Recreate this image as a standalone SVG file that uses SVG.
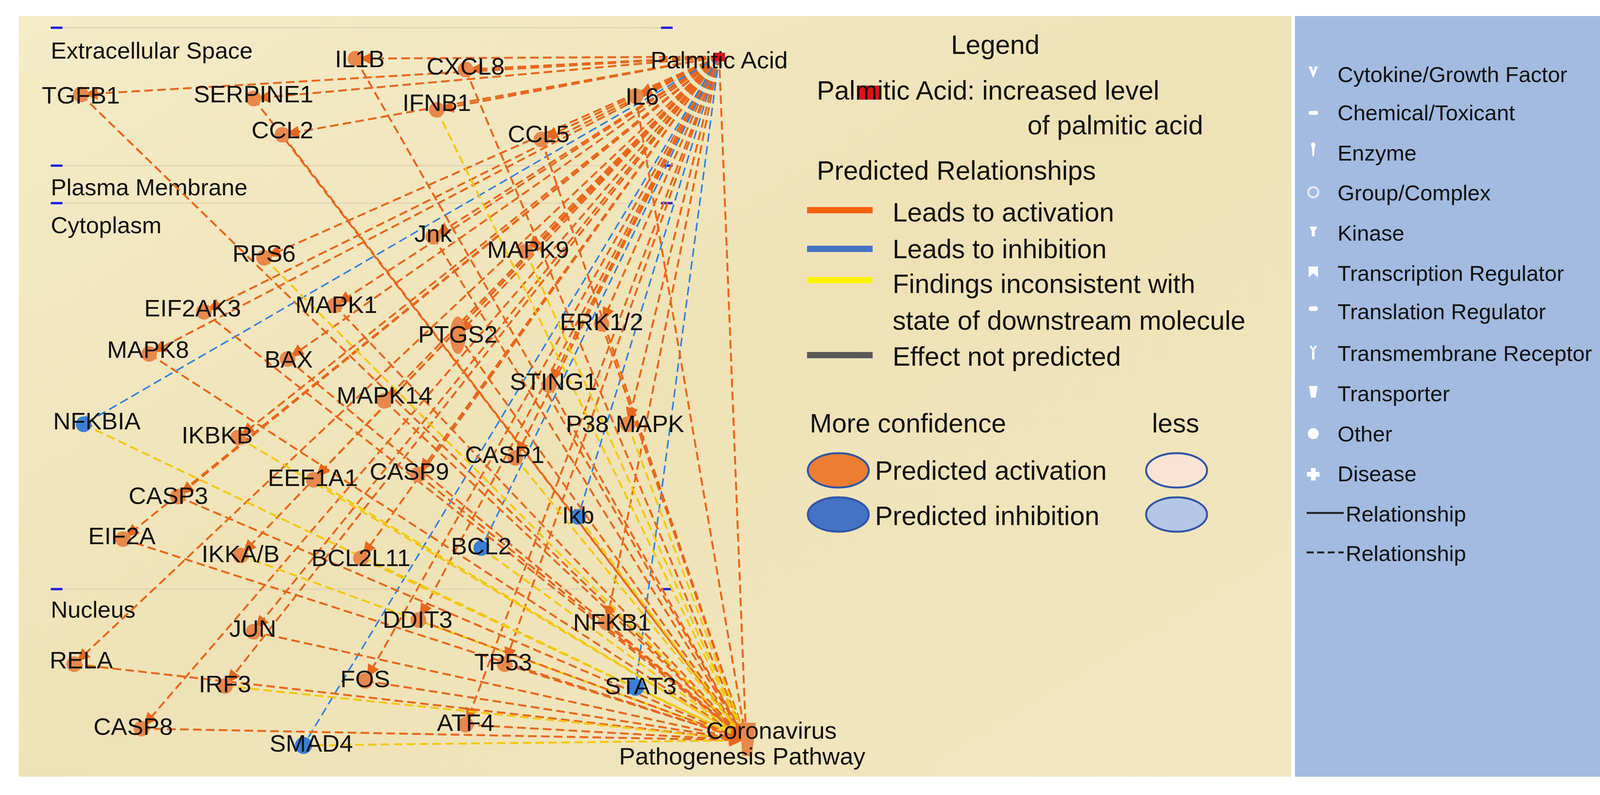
<svg xmlns="http://www.w3.org/2000/svg" width="4290" height="2035" viewBox="0 0 4290 2035">
<defs>
<linearGradient id="bg" x1="0" y1="0" x2="1" y2="1"><stop offset="0" stop-color="#F4EBC8"/><stop offset="0.5" stop-color="#EFE2B6"/><stop offset="1" stop-color="#F2E7C2"/></linearGradient>
<marker id="ao" markerUnits="userSpaceOnUse" markerWidth="60" markerHeight="40" viewBox="-2 -14 40 28" refX="30" refY="0" orient="auto"><path d="M0,-11 L24,0 L0,11 Z" fill="#E8671C"/></marker>
<marker id="ay" markerUnits="userSpaceOnUse" markerWidth="60" markerHeight="40" viewBox="-2 -14 40 28" refX="30" refY="0" orient="auto"><path d="M0,-11 L24,0 L0,11 Z" fill="#E8671C"/></marker>
<marker id="bb" markerUnits="userSpaceOnUse" markerWidth="60" markerHeight="40" viewBox="-2 -14 40 28" refX="30" refY="0" orient="auto"><path d="M20,-11 L20,11" stroke="#2F7FE0" stroke-width="4"/></marker>
</defs>
<style>
text{font-family:"Liberation Sans",Arial,sans-serif;fill:#111}
.n{font-size:62px;text-anchor:middle}
.c{font-size:60px}
.lg{font-size:68px}
.rp{font-size:56px}
.o{stroke:#E8671C;stroke-width:5;stroke-dasharray:22 11;fill:none;marker-end:url(#ao)}
.y{stroke:#F2C80F;stroke-width:5;stroke-dasharray:22 11;fill:none;marker-end:url(#ay)}
.b{stroke:#2F7FE0;stroke-width:4;stroke-dasharray:22 11;fill:none;marker-end:url(#bb)}
.act{fill:#E8884A}
.inh{fill:#3A80D6}
.dash{fill:#2323E0}
.ic{fill:#FFFFFF}
</style>
<rect width="4290" height="2035" fill="#FFFFFF"/>
<rect x="48" y="41" width="3258" height="1947" fill="url(#bg)"/>
<rect x="3315" y="41" width="932" height="1947" fill="#A3BBE0"/>
<g id="compartments" stroke="#DDD3B8" stroke-width="3">
<line x1="160" y1="71" x2="1700" y2="71"/><line x1="160" y1="424" x2="1700" y2="424"/><line x1="160" y1="520" x2="1700" y2="520"/><line x1="160" y1="1508" x2="1700" y2="1508"/>
</g>
<g id="dashes">
<rect class="dash" x="130" y="68" width="30" height="6"/><rect class="dash" x="1692" y="68" width="30" height="6"/>
<rect class="dash" x="130" y="421" width="30" height="6"/><rect class="dash" x="1692" y="421" width="30" height="6"/>
<rect class="dash" x="130" y="517" width="30" height="6"/><rect class="dash" x="1692" y="517" width="30" height="6"/>
<rect class="dash" x="130" y="1505" width="30" height="6"/><rect class="dash" x="1692" y="1505" width="30" height="6"/>
</g>
<text class="c" x="130" y="150">Extracellular Space</text>
<text class="c" x="130" y="500">Plasma Membrane</text>
<text class="c" x="130" y="597">Cytoplasm</text>
<text class="c" x="130" y="1581">Nucleus</text>
<g id="connectors">
<line class="o" x1="1841" y1="145" x2="910" y2="150"/>
<line class="o" x1="1841" y1="145" x2="1192" y2="178"/>
<line class="o" x1="1841" y1="145" x2="207" y2="242"/>
<line class="o" x1="1841" y1="145" x2="649" y2="252"/>
<line class="o" x1="1841" y1="145" x2="1118" y2="281"/>
<line class="o" x1="1841" y1="145" x2="1627" y2="246"/>
<line class="o" x1="1841" y1="145" x2="723" y2="345"/>
<line class="o" x1="1841" y1="145" x2="1386" y2="357"/>
<line class="o" x1="1841" y1="145" x2="1109" y2="606"/>
<line class="o" x1="1841" y1="145" x2="676" y2="660"/>
<line class="o" x1="1841" y1="145" x2="1346" y2="644"/>
<line class="o" x1="1841" y1="145" x2="522" y2="798"/>
<line class="o" x1="1841" y1="145" x2="857" y2="782"/>
<line class="o" x1="1841" y1="145" x2="1540" y2="829"/>
<line class="o" x1="1841" y1="145" x2="1172" y2="858"/>
<line class="o" x1="1841" y1="145" x2="382" y2="906"/>
<line class="o" x1="1841" y1="145" x2="736" y2="919"/>
<line class="o" x1="1841" y1="145" x2="1406" y2="986"/>
<line class="o" x1="1841" y1="145" x2="984" y2="1026"/>
<line class="b" x1="1841" y1="145" x2="214" y2="1086"/>
<line class="o" x1="1841" y1="145" x2="1607" y2="1086"/>
<line class="o" x1="1841" y1="145" x2="610" y2="1120"/>
<line class="o" x1="1841" y1="145" x2="1319" y2="1172"/>
<line class="o" x1="1841" y1="145" x2="1070" y2="1215"/>
<line class="o" x1="1841" y1="145" x2="803" y2="1228"/>
<line class="o" x1="1841" y1="145" x2="455" y2="1271"/>
<line class="b" x1="1841" y1="145" x2="1480" y2="1323"/>
<line class="o" x1="1841" y1="145" x2="315" y2="1380"/>
<line class="b" x1="1841" y1="145" x2="1232" y2="1403"/>
<line class="o" x1="1841" y1="145" x2="616" y2="1422"/>
<line class="o" x1="1841" y1="145" x2="924" y2="1429"/>
<line class="o" x1="1841" y1="145" x2="1071" y2="1587"/>
<line class="o" x1="1841" y1="145" x2="1553" y2="1594"/>
<line class="o" x1="1841" y1="145" x2="649" y2="1617"/>
<line class="o" x1="1841" y1="145" x2="190" y2="1700"/>
<line class="o" x1="1841" y1="145" x2="1292" y2="1700"/>
<line class="o" x1="1841" y1="145" x2="576" y2="1756"/>
<line class="o" x1="1841" y1="145" x2="935" y2="1743"/>
<line class="b" x1="1841" y1="145" x2="1627" y2="1759"/>
<line class="o" x1="1841" y1="145" x2="362" y2="1865"/>
<line class="o" x1="1841" y1="145" x2="1192" y2="1855"/>
<line class="b" x1="1841" y1="145" x2="777" y2="1908"/>
<line class="o" x1="1841" y1="145" x2="1910" y2="1895"/>
<line class="o" x1="910" y1="150" x2="1910" y2="1895"/>
<line class="o" x1="1192" y1="178" x2="1910" y2="1895"/>
<line class="o" x1="207" y1="242" x2="1910" y2="1895"/>
<line class="o" x1="649" y1="252" x2="1910" y2="1895"/>
<line class="y" x1="1118" y1="281" x2="1910" y2="1895"/>
<line class="o" x1="1627" y1="246" x2="1910" y2="1895"/>
<line class="o" x1="723" y1="345" x2="1910" y2="1895"/>
<line class="o" x1="1386" y1="357" x2="1910" y2="1895"/>
<line class="o" x1="1109" y1="606" x2="1910" y2="1895"/>
<line class="y" x1="676" y1="660" x2="1910" y2="1895"/>
<line class="y" x1="1346" y1="644" x2="1910" y2="1895"/>
<line class="o" x1="522" y1="798" x2="1910" y2="1895"/>
<line class="o" x1="857" y1="782" x2="1910" y2="1895"/>
<line class="o" x1="1540" y1="829" x2="1910" y2="1895"/>
<line class="o" x1="1172" y1="858" x2="1910" y2="1895"/>
<line class="o" x1="382" y1="906" x2="1910" y2="1895"/>
<line class="o" x1="736" y1="919" x2="1910" y2="1895"/>
<line class="o" x1="1406" y1="986" x2="1910" y2="1895"/>
<line class="o" x1="984" y1="1026" x2="1910" y2="1895"/>
<line class="y" x1="214" y1="1086" x2="1910" y2="1895"/>
<line class="y" x1="1607" y1="1086" x2="1910" y2="1895"/>
<line class="y" x1="610" y1="1120" x2="1910" y2="1895"/>
<line class="y" x1="1319" y1="1172" x2="1910" y2="1895"/>
<line class="o" x1="1070" y1="1215" x2="1910" y2="1895"/>
<line class="y" x1="803" y1="1228" x2="1910" y2="1895"/>
<line class="o" x1="455" y1="1271" x2="1910" y2="1895"/>
<line class="y" x1="1480" y1="1323" x2="1910" y2="1895"/>
<line class="o" x1="315" y1="1380" x2="1910" y2="1895"/>
<line class="y" x1="1232" y1="1403" x2="1910" y2="1895"/>
<line class="y" x1="616" y1="1422" x2="1910" y2="1895"/>
<line class="y" x1="924" y1="1429" x2="1910" y2="1895"/>
<line class="o" x1="1071" y1="1587" x2="1910" y2="1895"/>
<line class="o" x1="1553" y1="1594" x2="1910" y2="1895"/>
<line class="o" x1="649" y1="1617" x2="1910" y2="1895"/>
<line class="o" x1="190" y1="1700" x2="1910" y2="1895"/>
<line class="o" x1="1292" y1="1700" x2="1910" y2="1895"/>
<line class="y" x1="576" y1="1756" x2="1910" y2="1895"/>
<line class="o" x1="935" y1="1743" x2="1910" y2="1895"/>
<line class="y" x1="1627" y1="1759" x2="1910" y2="1895"/>
<line class="o" x1="362" y1="1865" x2="1910" y2="1895"/>
<line class="o" x1="1192" y1="1855" x2="1910" y2="1895"/>
<line class="y" x1="777" y1="1908" x2="1910" y2="1895"/>
</g>
<g id="n-IL1B"><circle class="act" cx="910" cy="150" r="20"/><text class="n" x="921" y="172">IL1B</text></g>
<g id="n-CXCL8"><circle class="act" cx="1192" cy="178" r="20"/><text class="n" x="1192" y="191">CXCL8</text></g>
<g id="n-TGFB1"><circle class="act" cx="207" cy="242" r="20"/><text class="n" x="207" y="265">TGFB1</text></g>
<g id="n-SERPINE1"><circle class="act" cx="649" cy="252" r="20"/><text class="n" x="649" y="262">SERPINE1</text></g>
<g id="n-IFNB1"><circle class="act" cx="1118" cy="281" r="20"/><text class="n" x="1118" y="284">IFNB1</text></g>
<g id="n-IL6"><circle class="act" cx="1627" cy="246" r="20"/><text class="n" x="1644" y="268">IL6</text></g>
<g id="n-CCL2"><circle class="act" cx="723" cy="345" r="20"/><text class="n" x="723" y="354">CCL2</text></g>
<g id="n-CCL5"><circle class="act" cx="1386" cy="357" r="20"/><text class="n" x="1379" y="364">CCL5</text></g>
<g id="n-Jnk"><circle class="act" cx="1109" cy="606" r="20"/><text class="n" x="1109" y="619">Jnk</text></g>
<g id="n-RPS6"><circle class="act" cx="676" cy="660" r="20"/><text class="n" x="676" y="670">RPS6</text></g>
<g id="n-MAPK9"><circle class="act" cx="1346" cy="644" r="20"/><text class="n" x="1352" y="660">MAPK9</text></g>
<g id="n-EIF2AK3"><circle class="act" cx="522" cy="798" r="20"/><text class="n" x="493" y="810">EIF2AK3</text></g>
<g id="n-MAPK1"><circle class="act" cx="857" cy="782" r="20"/><text class="n" x="861" y="801">MAPK1</text></g>
<g id="n-ERK12"><circle class="act" cx="1540" cy="829" r="20"/><text class="n" x="1540" y="845">ERK1/2</text></g>
<g id="n-PTGS2"><ellipse class="act" cx="1172" cy="858" rx="20" ry="48"/><text class="n" x="1172" y="877">PTGS2</text></g>
<g id="n-MAPK8"><circle class="act" cx="382" cy="906" r="20"/><text class="n" x="379" y="916">MAPK8</text></g>
<g id="n-BAX"><circle class="act" cx="736" cy="919" r="20"/><text class="n" x="739" y="941">BAX</text></g>
<g id="n-STING1"><circle class="act" cx="1406" cy="986" r="20"/><text class="n" x="1417" y="998">STING1</text></g>
<g id="n-MAPK14"><circle class="act" cx="984" cy="1026" r="20"/><text class="n" x="984" y="1033">MAPK14</text></g>
<g id="n-NFKBIA"><circle class="inh" cx="214" cy="1086" r="20"/><text class="n" x="248" y="1099">NFKBIA</text></g>
<g id="n-P38MAPK"><circle class="act" cx="1607" cy="1086" r="20"/><text class="n" x="1600" y="1106">P38 MAPK</text></g>
<g id="n-IKBKB"><circle class="act" cx="610" cy="1120" r="20"/><text class="n" x="556" y="1135">IKBKB</text></g>
<g id="n-CASP1"><circle class="act" cx="1319" cy="1172" r="20"/><text class="n" x="1292" y="1185">CASP1</text></g>
<g id="n-CASP9"><circle class="act" cx="1070" cy="1215" r="20"/><text class="n" x="1048" y="1228">CASP9</text></g>
<g id="n-EEF1A1"><circle class="act" cx="803" cy="1228" r="20"/><text class="n" x="801" y="1244">EEF1A1</text></g>
<g id="n-CASP3"><circle class="act" cx="455" cy="1271" r="20"/><text class="n" x="431" y="1290">CASP3</text></g>
<g id="n-Ikb"><circle class="inh" cx="1480" cy="1323" r="20"/><text class="n" x="1480" y="1340">Ikb</text></g>
<g id="n-EIF2A"><circle class="act" cx="315" cy="1380" r="20"/><text class="n" x="312" y="1393">EIF2A</text></g>
<g id="n-BCL2"><circle class="inh" cx="1232" cy="1403" r="20"/><text class="n" x="1232" y="1419">BCL2</text></g>
<g id="n-IKKAB"><circle class="act" cx="616" cy="1422" r="20"/><text class="n" x="616" y="1439">IKKA/B</text></g>
<g id="n-BCL2L11"><circle class="act" cx="924" cy="1429" r="20"/><text class="n" x="924" y="1449">BCL2L11</text></g>
<g id="n-DDIT3"><circle class="act" cx="1071" cy="1587" r="20"/><text class="n" x="1069" y="1607">DDIT3</text></g>
<g id="n-NFKB1"><circle class="act" cx="1553" cy="1594" r="20"/><text class="n" x="1567" y="1614">NFKB1</text></g>
<g id="n-JUN"><circle class="act" cx="649" cy="1617" r="20"/><text class="n" x="647" y="1630">JUN</text></g>
<g id="n-RELA"><circle class="act" cx="190" cy="1700" r="20"/><text class="n" x="208" y="1711">RELA</text></g>
<g id="n-TP53"><circle class="act" cx="1292" cy="1700" r="20"/><text class="n" x="1288" y="1716">TP53</text></g>
<g id="n-IRF3"><circle class="act" cx="576" cy="1756" r="20"/><text class="n" x="576" y="1772">IRF3</text></g>
<g id="n-FOS"><circle class="act" cx="935" cy="1743" r="20"/><text class="n" x="935" y="1759">FOS</text></g>
<g id="n-STAT3"><circle class="inh" cx="1627" cy="1759" r="22"/><text class="n" x="1640" y="1777">STAT3</text></g>
<g id="n-CASP8"><circle class="act" cx="362" cy="1865" r="20"/><text class="n" x="341" y="1881">CASP8</text></g>
<g id="n-ATF4"><circle class="act" cx="1192" cy="1855" r="20"/><text class="n" x="1192" y="1871">ATF4</text></g>
<g id="n-SMAD4"><circle class="inh" cx="777" cy="1908" r="22"/><text class="n" x="797" y="1924">SMAD4</text></g>
<g id="n-PalmiticAcid"><rect x="1826" y="135" width="30" height="22" fill="#E0101A"/><text class="n" x="1841" y="175">Palmitic Acid</text></g>
<g id="n-Coronavirus"><path d="M1895,1850 L1935,1850 L1925,1935 L1900,1935 Z" fill="#E8884A"/><text class="n" x="1975" y="1891">Coronavirus</text><text class="n" x="1900" y="1957">Pathogenesis Pathway</text></g>
<g id="legend">
<text class="lg" x="2548" y="138" text-anchor="middle">Legend</text>
<rect x="2197" y="219" width="58" height="36" fill="#E0101A"/>
<text class="lg" x="2091" y="255">Palmitic Acid: increased level</text>
<text class="lg" x="3080" y="344" text-anchor="end">of palmitic acid</text>
<text class="lg" x="2091" y="460">Predicted Relationships</text>
<rect x="2066" y="530" width="168" height="16" fill="#F4620E"/>
<rect x="2066" y="629" width="168" height="16" fill="#4472C4"/>
<rect x="2066" y="709" width="168" height="16" fill="#FFF200"/>
<rect x="2066" y="901" width="168" height="16" fill="#595959"/>
<text class="lg" x="2285" y="567">Leads to activation</text>
<text class="lg" x="2285" y="661">Leads to inhibition</text>
<text class="lg" x="2285" y="750">Findings inconsistent with</text>
<text class="lg" x="2285" y="844">state of downstream molecule</text>
<text class="lg" x="2285" y="936">Effect not predicted</text>
<text class="lg" x="2073" y="1107">More confidence</text>
<text class="lg" x="2949" y="1107">less</text>
<ellipse cx="2146" cy="1204" rx="78" ry="44" fill="#ED7D31" stroke="#2F55A4" stroke-width="5"/>
<ellipse cx="3012" cy="1204" rx="78" ry="44" fill="#FBE3D4" stroke="#2F55A4" stroke-width="5"/>
<ellipse cx="2146" cy="1317" rx="78" ry="44" fill="#4472C4" stroke="#2F55A4" stroke-width="5"/>
<ellipse cx="3012" cy="1317" rx="78" ry="44" fill="#B4C7E7" stroke="#2F55A4" stroke-width="5"/>
<text class="lg" x="2240" y="1228">Predicted activation</text>
<text class="lg" x="2240" y="1344">Predicted inhibition</text>
</g>
<g id="shape-legend">
<path class="ic" d="M3350,170 L3362,200 L3374,170 L3366,170 L3362,184 L3358,170 Z"/>
<rect class="ic" x="3350" y="284" width="24" height="10" rx="4"/>
<path class="ic" d="M3358,375 a6,6 0 1,1 8,0 L3364,400 L3360,400 Z"/>
<circle cx="3362" cy="492" r="13" fill="none" stroke="#E6ECF6" stroke-width="5"/>
<path class="ic" d="M3352,580 L3372,580 L3366,592 L3366,605 L3358,605 L3358,592 Z"/>
<path class="ic" d="M3350,682 L3374,682 L3374,710 L3362,700 L3350,710 Z"/>
<rect class="ic" x="3350" y="784" width="24" height="12" rx="6"/>
<path class="ic" d="M3352,885 L3362,900 L3372,885 L3366,885 L3362,893 L3358,885 Z M3359,898 L3365,898 L3365,920 L3359,920 Z"/>
<path class="ic" d="M3351,988 L3373,988 L3368,1018 L3356,1018 Z"/>
<circle class="ic" cx="3362" cy="1110" r="14"/>
<path class="ic" d="M3356,1198 h12 v10 h10 v12 h-10 v10 h-12 v-10 h-10 v-12 h10 Z"/>
<line x1="3345" y1="1313" x2="3440" y2="1313" stroke="#222" stroke-width="5"/>
<line x1="3345" y1="1414" x2="3440" y2="1414" stroke="#222" stroke-width="5" stroke-dasharray="18 9"/>
<text class="rp" x="3424" y="210">Cytokine/Growth Factor</text>
<text class="rp" x="3424" y="308">Chemical/Toxicant</text>
<text class="rp" x="3424" y="411">Enzyme</text>
<text class="rp" x="3424" y="513">Group/Complex</text>
<text class="rp" x="3424" y="616">Kinase</text>
<text class="rp" x="3424" y="719">Transcription Regulator</text>
<text class="rp" x="3424" y="817">Translation Regulator</text>
<text class="rp" x="3424" y="924">Transmembrane Receptor</text>
<text class="rp" x="3424" y="1027">Transporter</text>
<text class="rp" x="3424" y="1130">Other</text>
<text class="rp" x="3424" y="1232">Disease</text>
<text class="rp" x="3445" y="1335">Relationship</text>
<text class="rp" x="3445" y="1436">Relationship</text>
</g>
</svg>
